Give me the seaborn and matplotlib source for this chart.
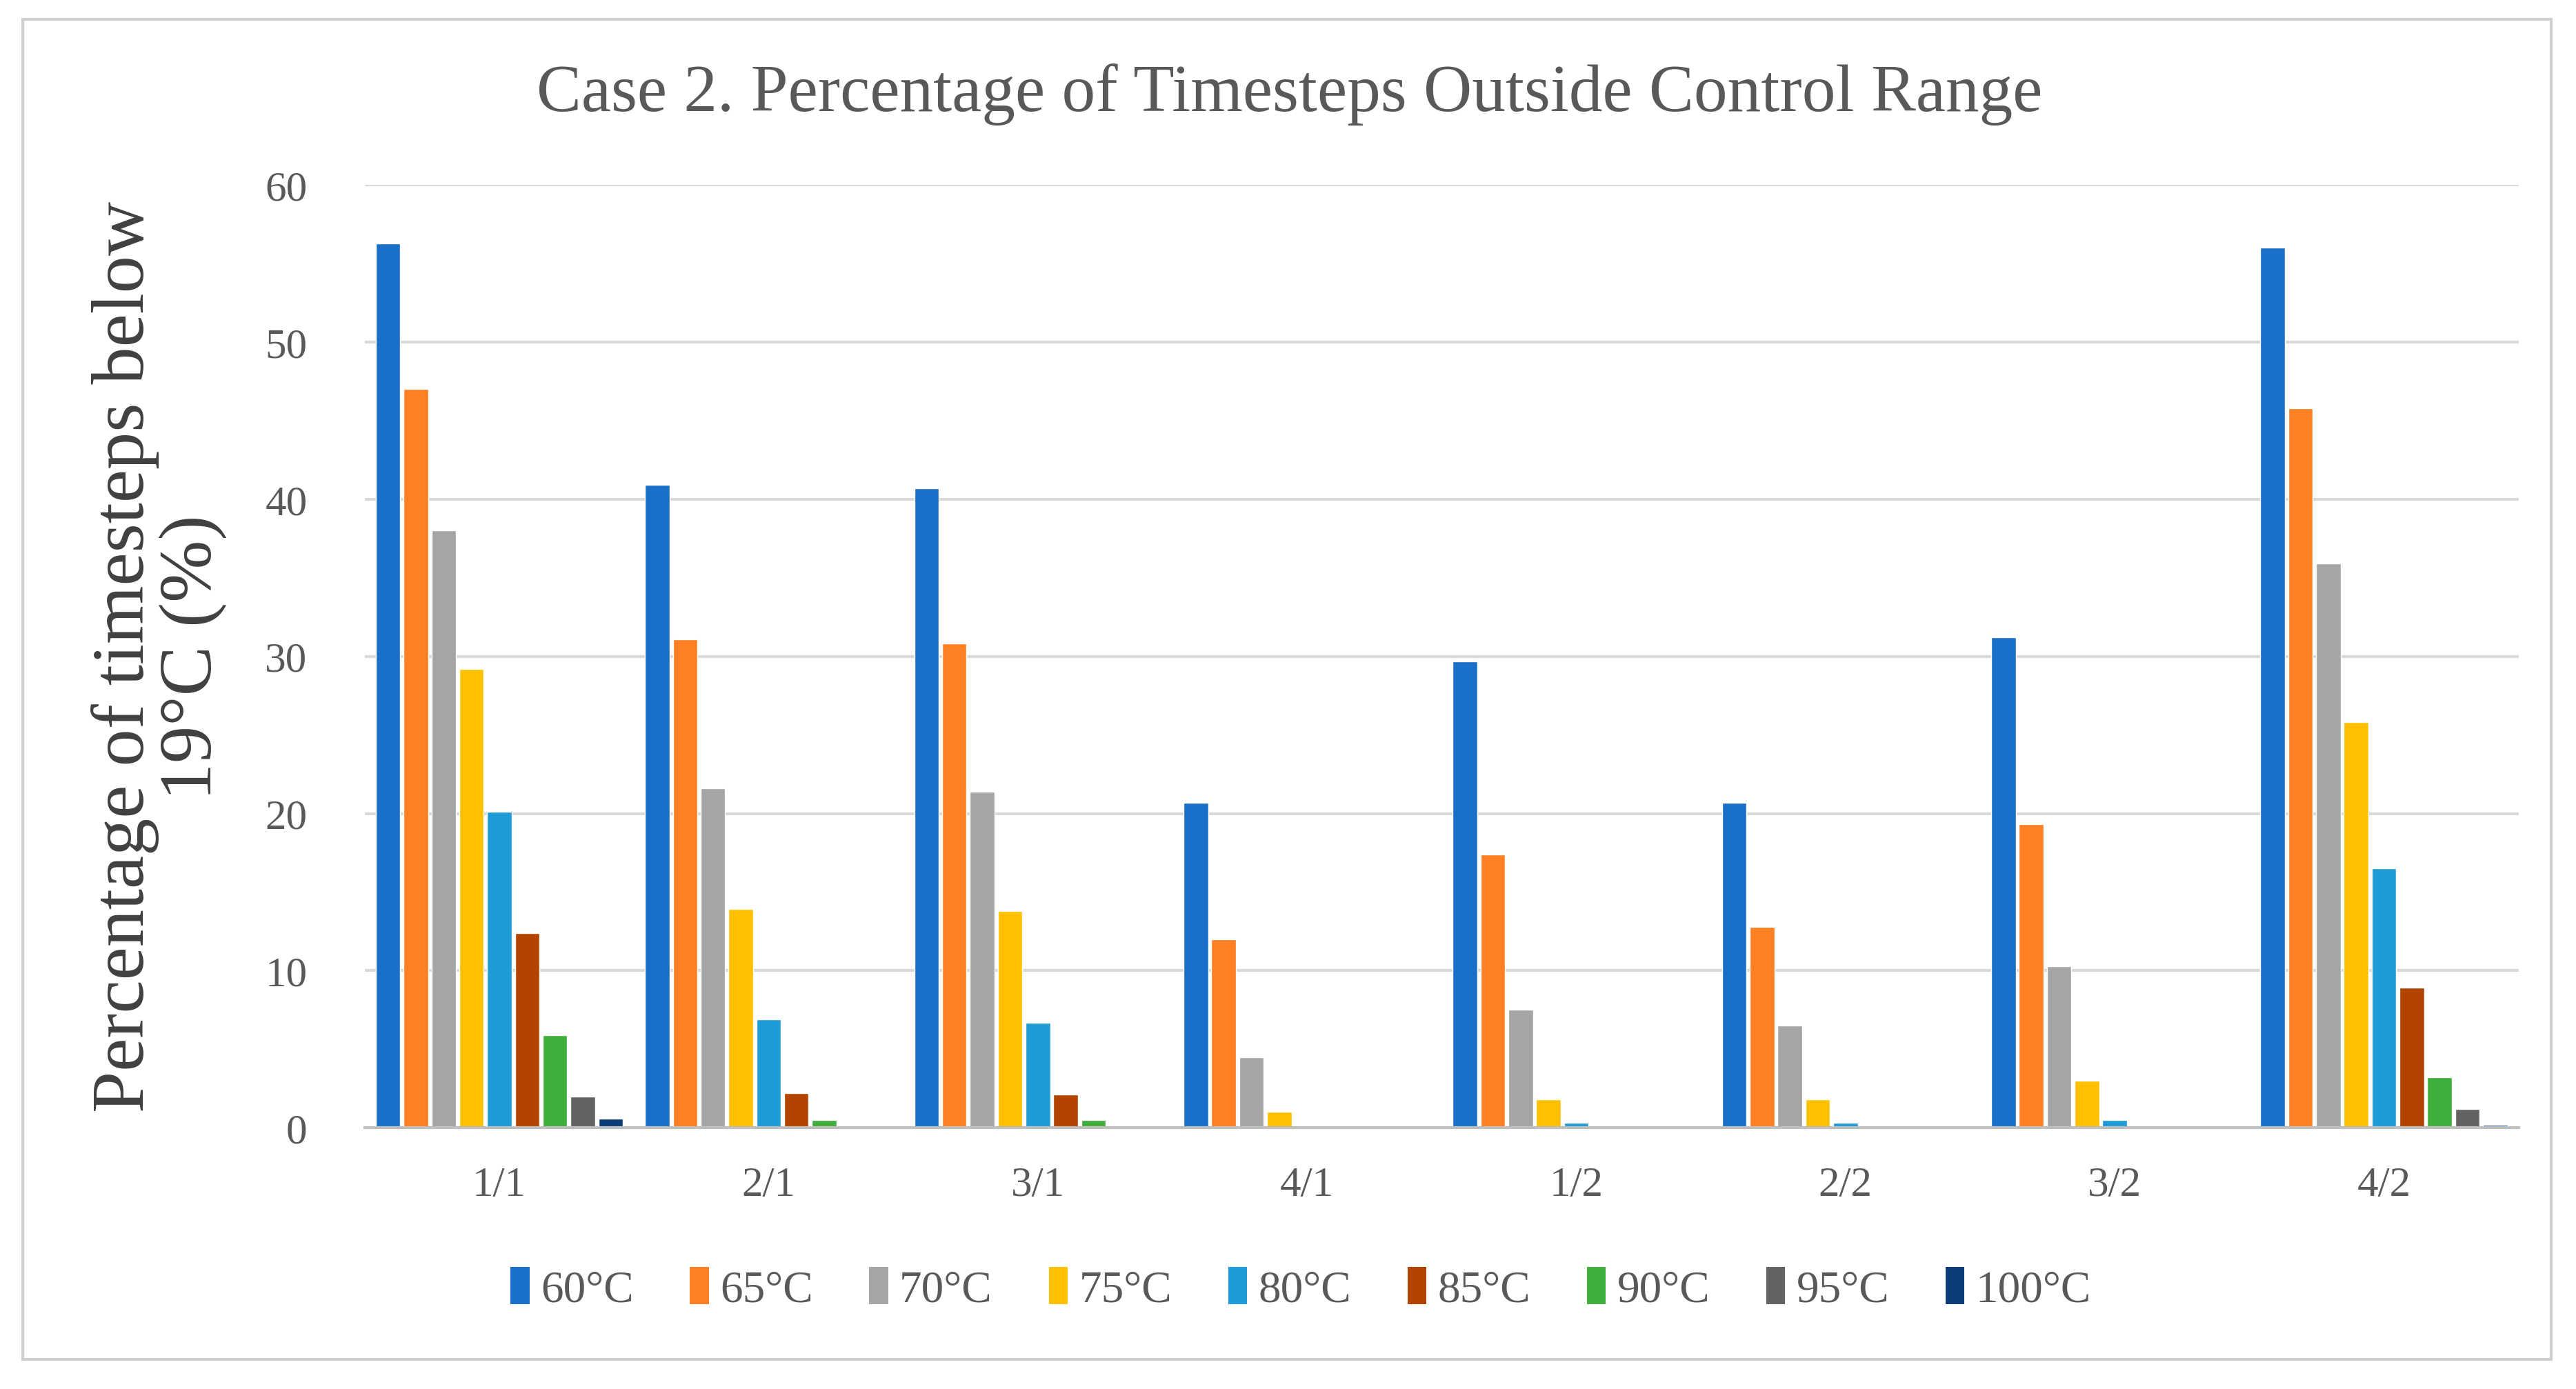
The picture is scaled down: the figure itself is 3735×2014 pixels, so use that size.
import numpy as np
import pandas as pd
import matplotlib
matplotlib.use("Agg")
import matplotlib.pyplot as plt
from matplotlib.patches import Rectangle
import seaborn as sns

categories = ["1/1", "2/1", "3/1", "4/1", "1/2", "2/2", "3/2", "4/2"]
series = ["60°C", "65°C", "70°C", "75°C", "80°C", "85°C", "90°C", "95°C", "100°C"]
v60 = [56.3, 40.9, 40.7, 20.7, 29.7, 20.7, 31.2, 56.0]
v65 = [47.0, 31.1, 30.8, 12.0, 17.4, 12.8, 19.3, 45.8]
v70 = [38.0, 21.6, 21.4, 4.5, 7.5, 6.5, 10.3, 35.9]
v75 = [29.2, 13.9, 13.8, 1.0, 1.8, 1.8, 3.0, 25.8]
v80 = [20.1, 6.9, 6.7, 0.0, 0.3, 0.3, 0.5, 16.5]
v85 = [12.4, 2.2, 2.1, 0.0, 0.0, 0.0, 0.0, 8.9]
v90 = [5.9, 0.5, 0.5, 0.0, 0.0, 0.0, 0.0, 3.2]
v95 = [2.0, 0.0, 0.0, 0.0, 0.0, 0.0, 0.0, 1.2]
v100 = [0.6, 0.0, 0.0, 0.0, 0.0, 0.0, 0.0, 0.2]
yticks = [0, 10, 20, 30, 40, 50, 60]

colors = ["#1A6FC8", "#FF7F24", "#A5A5A5", "#FFC000", "#1F9BD8",
          "#B34400", "#3FAE3A", "#636363", "#0D3D78"]

vals = [v60, v65, v70, v75, v80, v85, v90, v95, v100]
rows = []
for s, vs in zip(series, vals):
    for c, v in zip(categories, vs):
        rows.append({"Case": c, "Temp": s, "Value": v})
df = pd.DataFrame(rows)

sns.set_theme(style="white")
plt.rcParams["font.family"] = ["Liberation Serif", "DejaVu Serif"]

W, H = 3735, 2015
fig = plt.figure(figsize=(W / 100, H / 100), dpi=100)
fig.patch.set_facecolor("white")
ax = fig.add_axes([0.1416, 0.188, 0.9777 - 0.1416, 0.8664 - 0.188])

sns.barplot(data=df, x="Case", y="Value", hue="Temp", order=categories,
            hue_order=series, palette=colors, width=0.93, gap=0.12,
            saturation=1, ax=ax, legend=False, errorbar=None)

ax.set_ylim(0, 60)
ax.set_yticks(yticks)
ax.set_xlim(-0.5, len(categories) - 0.5)
ax.yaxis.grid(True, color="#D9D9D9", linewidth=3)
ax.set_axisbelow(True)
for sp in ["top", "right", "left"]:
    ax.spines[sp].set_visible(False)
ax.spines["bottom"].set_color("#BFBFBF")
ax.spines["bottom"].set_linewidth(3)
ax.tick_params(axis="both", length=0, colors="#595959", labelsize=44)
ax.tick_params(axis="y", pad=60)
ax.tick_params(axis="x", pad=40)
ax.set_xlabel("")
ax.set_ylabel("Percentage of timesteps below\n19°C (%)", fontsize=78,
              color="#404040", linespacing=1.0, labelpad=40)

fig.text(0.5005, 0.932, "Case 2. Percentage of Timesteps Outside Control Range",
         ha="center", va="center", fontsize=70, color="#595959")

handles = [Rectangle((0, 0), 1, 1, facecolor=c, edgecolor="none") for c in colors]
fig.legend(handles, series, loc="center", bbox_to_anchor=(0.505, 0.072),
           ncol=9, frameon=False, fontsize=47, handlelength=0.42,
           handleheight=0.9, handletextpad=0.25, columnspacing=1.25,
           labelcolor="#595959")

fig.patches.append(Rectangle((14 / 1568, 1 - 828 / 846), (1553 - 14) / 1568,
                             (828 - 12) / 846, transform=fig.transFigure,
                             fill=False, edgecolor="#D0D0D0", linewidth=3))

fig.savefig("out.png", dpi=100, facecolor="white")
